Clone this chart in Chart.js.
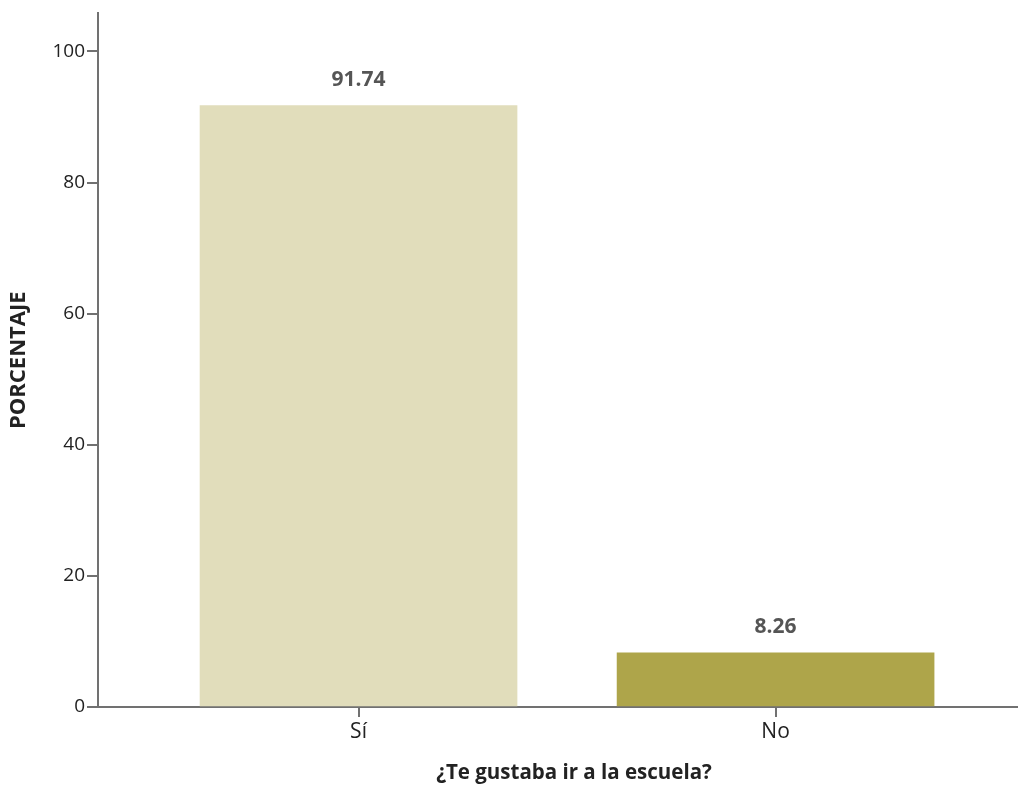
<!DOCTYPE html>
<html>
<head>
<meta charset="utf-8">
<script src="https://cdn.jsdelivr.net/npm/chart.js@4.4.1/dist/chart.umd.min.js"></script>
<style>
html,body{margin:0;padding:0;background:#fff;overflow:hidden;}
#wrap{width:1050px;height:786px;position:relative;}
</style>
</head>
<body>
<div id="wrap"><canvas id="c" width="1050" height="786"></canvas></div>
<script>
const categories = ['Sí', 'No'];
const percentages = [91.74, 8.26];
const barColors = ['#E1DDBB', '#AEA54A'];
const yTicks = [0, 20, 40, 60, 80, 100];
const xTitle = '¿Te gustaba ir a la escuela?';
const yTitle = 'PORCENTAJE';

const axisColor = '#717171';

const valueLabels = {
  id: 'valueLabels',
  afterDatasetsDraw(chart) {
    const ctx = chart.ctx;
    const meta = chart.getDatasetMeta(0);
    ctx.save();
    ctx.font = 'bold 21px "Open Sans", sans-serif';
    ctx.fillStyle = '#555555';
    ctx.textAlign = 'center';
    ctx.textBaseline = 'middle';
    meta.data.forEach((bar, i) => {
      ctx.fillText(percentages[i].toFixed(2), bar.x, bar.y - 26);
    });
    ctx.restore();
  }
};

new Chart(document.getElementById('c'), {
  type: 'bar',
  data: {
    datasets: [{
      data: categories.map((c, i) => ({ x: i, y: percentages[i] })),
      backgroundColor: barColors,
      borderWidth: 0,
      barThickness: 317
    }]
  },
  options: {
    responsive: false,
    animation: false,
    events: [],
    layout: { padding: { top: 13, left: 0, right: 0, bottom: 0 } },
    plugins: { legend: { display: false }, tooltip: { enabled: false } },
    scales: {
      x: {
        type: 'linear',
        min: -0.6247,
        max: 1.658,
        offset: false,
        afterBuildTicks(scale) { scale.ticks = categories.map((c, i) => ({ value: i })); },
        afterFit(scale) { scale.height = 79; },
        ticks: {
          callback: (v) => categories[v],
          color: '#222',
          font: { family: '"Open Sans", sans-serif', size: 21 },
          padding: 2,
          maxRotation: 0,
          autoSkip: false
        },
        grid: { display: true, drawOnChartArea: false, drawTicks: true, tickLength: 10, color: axisColor, lineWidth: 2, offset: false },
        border: { display: true, color: axisColor, width: 2 },
        title: {
          display: true,
          text: xTitle,
          color: '#222',
          font: { family: '"Open Sans", sans-serif', size: 20.5, weight: 'bold' },
          padding: { top: 0, bottom: 1 }
        }
      },
      y: {
        min: 0,
        max: 105.8,
        afterBuildTicks(scale) { scale.ticks = yTicks.map(v => ({ value: v })); },
        afterFit(scale) { scale.width = 98; },
        ticks: {
          color: '#222',
          font: { family: '"Open Sans", sans-serif', size: 19 },
          padding: 2
        },
        grid: { display: true, drawOnChartArea: false, drawTicks: true, tickLength: 11, color: axisColor, lineWidth: 2 },
        border: { display: true, color: axisColor, width: 2 },
        title: {
          display: true,
          text: yTitle,
          color: '#222',
          font: { family: '"Open Sans", sans-serif', size: 22, weight: 'bold' },
          padding: { top: 6, bottom: 0 }
        }
      }
    }
  },
  plugins: [valueLabels]
});
</script>
</body>
</html>
